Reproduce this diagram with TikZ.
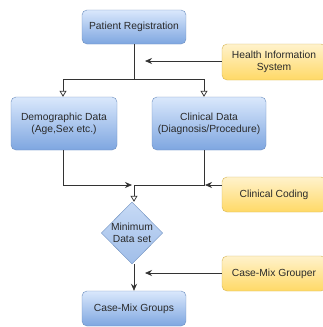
\documentclass[tikz,border=0pt]{standalone}
\usepackage{fontspec}
\setmainfont{Liberation Sans}
\usetikzlibrary{arrows.meta,shapes.geometric}
\definecolor{bluetop}{HTML}{DAE8FC}
\definecolor{bluebot}{HTML}{7EA6E0}
\definecolor{blueline}{HTML}{6C8EBF}
\definecolor{diamfill}{HTML}{A9C4EB}
\definecolor{yeltop}{HTML}{FFF2CC}
\definecolor{yelbot}{HTML}{FFD966}
\definecolor{yelline}{HTML}{D6B656}
\definecolor{txtc}{HTML}{2A2A2A}
\definecolor{linec}{HTML}{333333}
\begin{document}
\begin{tikzpicture}[x=1pt,y=-1pt,
  basebox/.style={rounded corners=5pt, align=center, inner sep=0pt, text=txtc,
    font=\fontsize{10.3}{12}\selectfont},
  bluebox/.style={basebox, draw=blueline, top color=bluetop, bottom color=bluebot},
  yelbox/.style={basebox, draw=yelline, top color=yeltop, bottom color=yelbot},
  conn/.style={draw=linec, line width=0.75pt},
  openarrow/.style={conn, -{Triangle[open,length=6pt,width=7pt]}},
  solidarrow/.style={conn, -{Stealth[length=7pt,width=6pt]}}
]
\path[use as bounding box, clip] (0,0) rectangle (323,327);
\fill[white] (0,0) rectangle (323,327);

\node[bluebox, minimum width=104pt, minimum height=34pt] (pr) at (134,27) {Patient Registration};
\node[yelbox, minimum width=104pt, minimum height=36pt] (his) at (274,62) {Health Information\\System};
\node[bluebox, minimum width=106pt, minimum height=53pt] (dd) at (64,123.5) {Demographic Data\\(Age,Sex etc.)};
\node[bluebox, minimum width=114pt, minimum height=53pt] (cd) at (209,123.5) {Clinical Data\\(Diagnosis/Procedure)};
\node[yelbox, minimum width=104pt, minimum height=35pt] (cc) at (274,194.5) {Clinical Coding};
\node[diamond, draw=blueline, top color=bluetop!60!diamfill, bottom color=diamfill!80!bluebot, inner sep=0pt,
  minimum width=61pt, minimum height=62pt, align=center, text=txtc,
  font=\fontsize{10.3}{12}\selectfont] (mds) at (132,233) {Minimum\\Data set};
\node[yelbox, minimum width=104pt, minimum height=35pt] (cmgr) at (274,273.5) {Case-Mix Grouper};
\node[bluebox, minimum width=104pt, minimum height=35pt] (cmg) at (134,308.5) {Case-Mix Groups};

\coordinate (j1) at (134,79);
\coordinate (h1) at (145,61);
\coordinate (j2) at (134,185);
\coordinate (c1) at (205,185);
\coordinate (g1) at (145,273);

\draw[conn] (pr.south) -- (j1);
\draw[openarrow] (j1) -| ([xshift=-1pt]dd.north);
\draw[openarrow] (j1) -| ([xshift=-5pt]cd.north);
\draw[solidarrow] (his.west |- h1) -- (h1);
\draw[solidarrow] ([xshift=-1pt]dd.south) |- ([xshift=-2pt]j2);
\draw[conn] ([xshift=-5pt]cd.south) |- (j2);
\draw[solidarrow] (cc.west |- c1) -- (c1);
\draw[openarrow] (j2) -- (j2 |- mds.north);
\draw[solidarrow] (mds.south -| j2) -- (cmg.north);
\draw[solidarrow] (cmgr.west |- g1) -- (g1);
\end{tikzpicture}
\end{document}
